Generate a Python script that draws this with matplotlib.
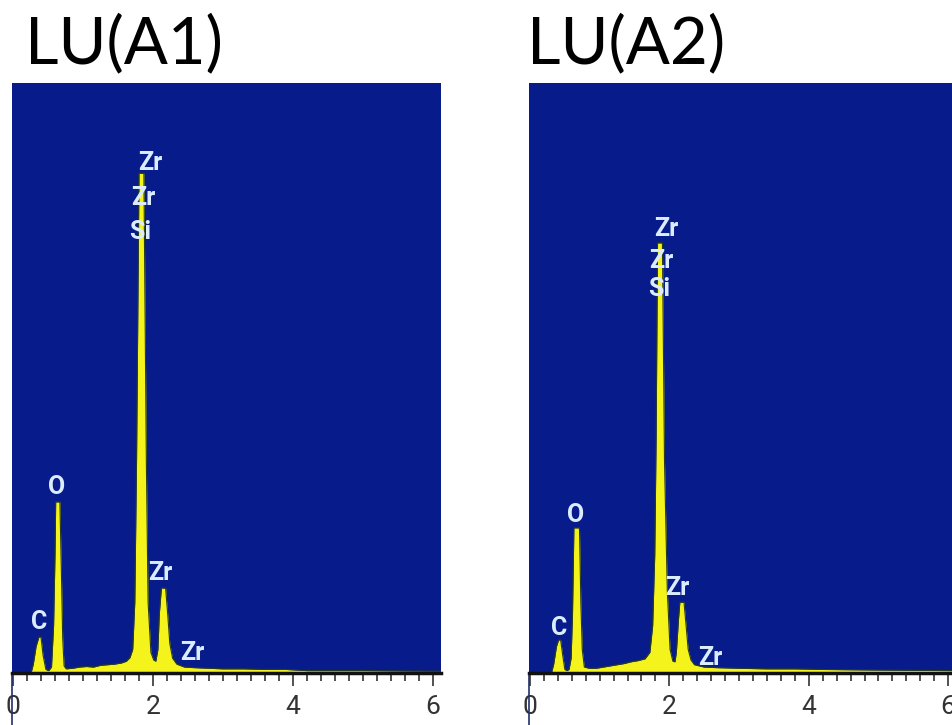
import matplotlib
matplotlib.use("Agg")
import matplotlib.pyplot as plt
from matplotlib.ticker import MultipleLocator

##! Data (energy in keV, counts in arbitrary units)
titles = ["LU(A1)", "LU(A2)"]

energy_a1 = [0.00, 0.26, 0.29, 0.33, 0.37, 0.40, 0.43, 0.47, 0.51, 0.55, 0.58, 0.60,
             0.61, 0.67, 0.69, 0.71, 0.73, 0.76, 0.85, 0.95, 1.05, 1.15, 1.25, 1.35,
             1.45, 1.55, 1.62, 1.67, 1.71, 1.74, 1.765, 1.80, 1.87, 1.905, 1.93, 1.97,
             2.01, 2.04, 2.07, 2.09, 2.12, 2.18, 2.21, 2.24, 2.28, 2.34, 2.45, 2.60,
             2.80, 3.00, 3.30, 3.60, 3.90, 4.20, 5.00, 6.12]
counts_a1 = [0.0, 0.1, 1.5, 4.5, 6.1, 6.1, 3.0, 0.6, 0.4, 1.0, 8.0, 20.0,
             29.0, 29.0, 18.0, 6.0, 1.2, 0.7, 0.8, 1.0, 1.1, 1.0, 1.3, 1.4,
             1.5, 1.7, 2.0, 2.6, 4.0, 12.0, 36.0, 84.7, 84.7, 36.0, 12.0, 3.5,
             2.2, 2.0, 4.0, 10.0, 14.4, 14.4, 10.0, 5.0, 2.5, 1.5, 1.0, 0.9,
             0.8, 0.7, 0.7, 0.6, 0.6, 0.4, 0.4, 0.3]

energy_a2 = [0.00, 0.31, 0.34, 0.38, 0.41, 0.44, 0.47, 0.50, 0.53, 0.56, 0.59, 0.61,
             0.63, 0.71, 0.73, 0.75, 0.78, 0.85, 0.95, 1.05, 1.15, 1.25, 1.35, 1.45,
             1.55, 1.65, 1.72, 1.76, 1.79, 1.81, 1.83, 1.90, 1.93, 1.97, 2.01, 2.05,
             2.08, 2.10, 2.13, 2.15, 2.21, 2.24, 2.27, 2.31, 2.36, 2.50, 2.70, 3.00,
             3.40, 3.80, 4.20, 5.00, 6.06]
counts_a2 = [0.0, 0.1, 1.5, 4.5, 5.6, 5.6, 3.0, 0.6, 0.4, 0.6, 2.5, 10.0,
             24.6, 24.6, 12.0, 4.0, 1.0, 0.8, 0.8, 1.0, 1.2, 1.4, 1.6, 1.9,
             2.1, 2.4, 3.5, 8.0, 20.0, 40.0, 72.9, 72.9, 36.0, 14.0, 4.0, 2.0,
             1.9, 3.5, 9.0, 12.0, 12.0, 8.0, 4.0, 2.2, 1.4, 1.0, 0.9, 0.8,
             0.7, 0.7, 0.6, 0.5, 0.4]

# peak labels: (text, energy, counts)
labels_a1 = [("Zr", 1.96, 86.4), ("Zr", 1.86, 80.5), ("Si", 1.81, 74.7),
             ("O", 0.63, 31.5), ("C", 0.37, 8.6), ("Zr", 2.10, 16.9), ("Zr", 2.56, 3.4)]
labels_a2 = [("Zr", 1.95, 75.3), ("Zr", 1.89, 69.8), ("Si", 1.86, 65.0),
             ("O", 0.65, 26.8), ("C", 0.42, 7.6), ("Zr", 2.11, 14.4), ("Zr", 2.58, 2.5)]

bg_blue = "#071c8a"
peak_yellow = "#f4f41c"
label_col = "#dcecff"

fig = plt.figure(figsize=(9.52, 7.25), dpi=100)

ax1 = fig.add_axes([12/952, 52/725, 429/952, 590/725])
ax2 = fig.add_axes([529/952, 52/725, 423/952, 590/725])

panels = [(ax1, energy_a1, counts_a1, labels_a1, (-0.014, 6.114), 25),
          (ax2, energy_a2, counts_a2, labels_a2, (-0.014, 6.055), 527)]

for i, (ax, en, ct, labs, xl, tx) in enumerate(panels):
    ax.set_facecolor(bg_blue)
    ax.fill_between(en, ct, 0, color=peak_yellow, lw=0)
    ax.plot(en, ct, color="#2a3d18", lw=0.8)
    for txt, x, y in labs:
        ax.text(x, y, txt, color=label_col, fontsize=18, ha="center", va="center",
                family="Roboto", fontweight="bold")
    ax.set_xlim(*xl)
    ax.set_ylim(0, 100)
    ax.set_yticks([])
    ax.xaxis.set_major_locator(MultipleLocator(2))
    ax.xaxis.set_minor_locator(MultipleLocator(0.2))
    ax.tick_params(axis="x", which="major", direction="out", length=9, width=1.2,
                   colors="#333333", labelsize=19, pad=7)
    ax.tick_params(axis="x", which="minor", direction="out", length=6, width=1.2,
                   colors="#333333")
    for lab in ax.get_xticklabels():
        lab.set_family("Roboto")
    for s in ["top", "right", "left"]:
        ax.spines[s].set_visible(False)
    ax.spines["bottom"].set_linewidth(2.5)
    ax.spines["bottom"].set_color("#111111")
    # thin line on the left edge, running down through the tick area
    ax.plot([0, 0], [0, -0.09], transform=ax.transAxes, color="#20306a", lw=1.2,
            clip_on=False)
    fig.text(tx/952, 1 - 63/725, titles[i], fontsize=47, family="Lato",
             color="black", ha="left", va="baseline")

fig.savefig("out.png", dpi=100)
